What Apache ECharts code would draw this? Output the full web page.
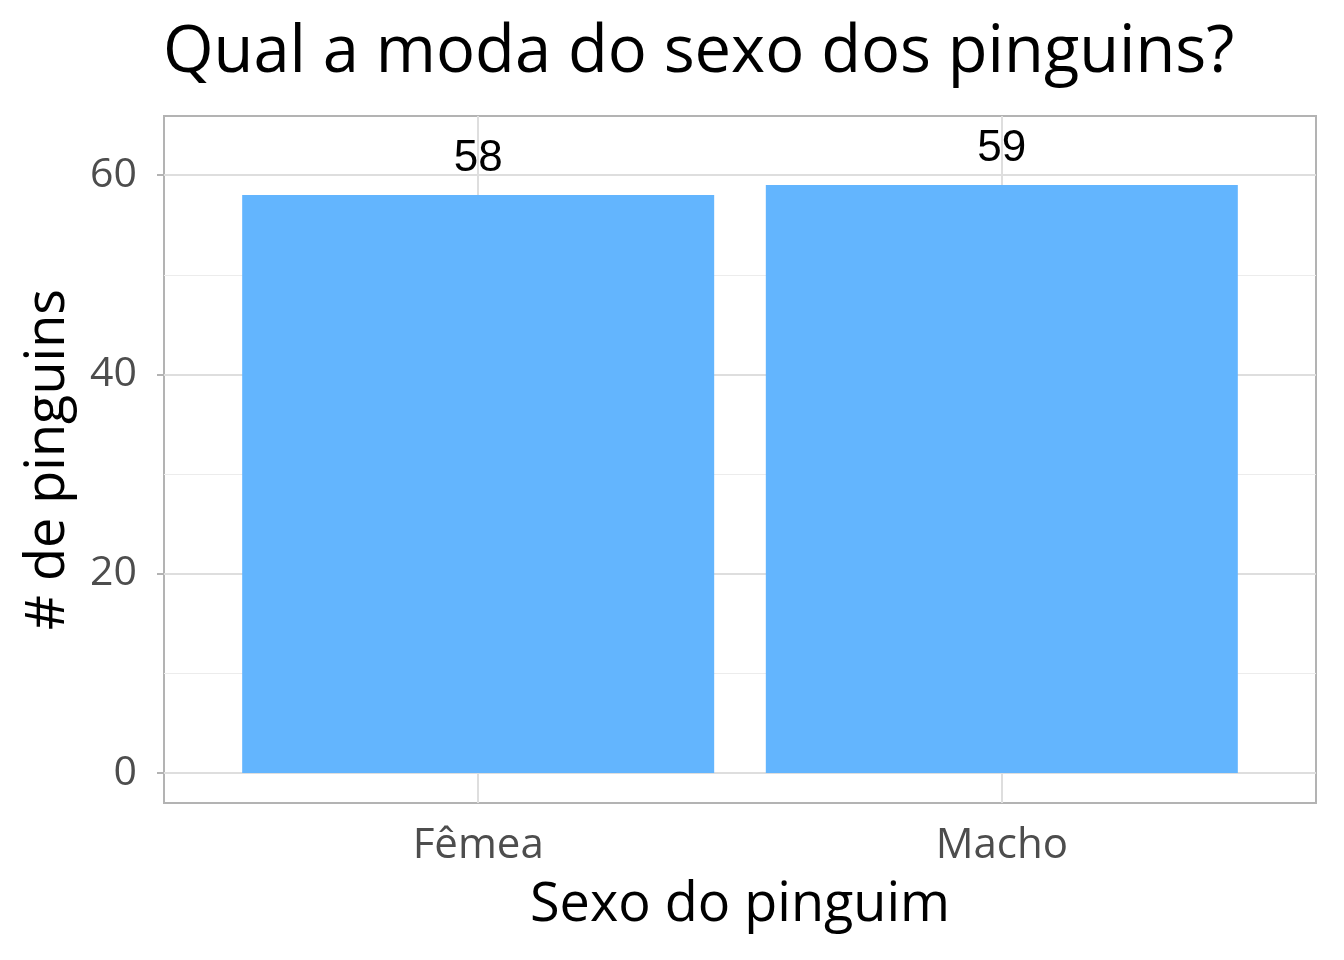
<!DOCTYPE html>
<html>
<head>
<meta charset="utf-8">
<script src="https://cdn.jsdelivr.net/npm/echarts@6/dist/echarts.min.js"></script>
<style>
  html, body { margin: 0; padding: 0; background: #fff; }
  #chart { width: 1344px; height: 960px; }
</style>
</head>
<body>
<div id="chart"></div>
<script>
// data
var categories = ['Fêmea', 'Macho']
var counts = [58, 59]
var yTicks = [0, 20, 40, 60]
var yMinor = [10, 30, 50]

var xPos = categories.map(function (c, i) { return i + 1 })
var barData = counts.map(function (v, i) { return [xPos[i], v] })

var gridMajor = { color: '#dedede', width: 2, type: 'solid' }
var gridMinor = { color: '#ececec', width: 1, type: 'solid' }

var gridLines = []
xPos.forEach(function (x) { gridLines.push({ xAxis: x, lineStyle: gridMajor }) })
yTicks.forEach(function (y) { gridLines.push({ yAxis: y, lineStyle: gridMajor }) })
yMinor.forEach(function (y) { gridLines.push({ yAxis: y, lineStyle: gridMinor }) })

var chart = echarts.init(document.getElementById('chart'))
chart.setOption({
  animation: false,
  textStyle: { fontFamily: 'Open Sans' },
  title: {
    text: 'Qual a moda do sexo dos pinguins?',
    left: 158,
    top: 16,
    textStyle: { fontFamily: 'Open Sans', fontSize: 65, fontWeight: 'normal', color: '#000' }
  },
  grid: {
    left: 164,
    right: 28,
    top: 116,
    bottom: 157,
    show: true,
    borderColor: '#b3b3b3',
    borderWidth: 2,
    backgroundColor: '#fff'
  },
  xAxis: {
    type: 'value',
    min: 0.4,
    max: 2.6,
    name: 'Sexo do pinguim',
    nameLocation: 'middle',
    nameGap: 76,
    nameTextStyle: { fontFamily: 'Open Sans', fontSize: 54, color: '#000' },
    axisLine: { show: false },
    splitLine: { show: false },
    axisTick: { show: true, customValues: xPos, length: 7, lineStyle: { color: '#b3b3b3', width: 2 } },
    axisLabel: {
      customValues: xPos,
      margin: 22,
      fontFamily: 'Open Sans',
      fontSize: 42,
      color: '#4d4d4d',
      formatter: function (v) { return categories[Math.round(v) - 1] || '' }
    }
  },
  yAxis: {
    type: 'value',
    min: -3.0,
    max: 65.93,
    name: '# de pinguins',
    nameLocation: 'middle',
    nameGap: 88,
    nameTextStyle: { fontFamily: 'Open Sans', fontSize: 54, color: '#000' },
    axisLine: { show: false },
    splitLine: { show: false },
    axisTick: { show: true, customValues: yTicks, length: 7, lineStyle: { color: '#b3b3b3', width: 2 } },
    axisLabel: {
      customValues: yTicks,
      margin: 27,
      fontFamily: 'Open Sans',
      fontSize: 41,
      color: '#4d4d4d'
    }
  },
  series: [
    {
      type: 'bar',
      data: barData,
      barWidth: 472,
      z: 3,
      itemStyle: { color: '#63b5fe' },
      label: {
        show: true,
        position: 'top',
        distance: 14,
        fontFamily: 'Liberation Sans',
        fontSize: 44,
        color: '#000',
        formatter: function (p) { return p.value[1] }
      },
      markLine: {
        silent: true,
        z: 1,
        symbol: ['none', 'none'],
        label: { show: false },
        emphasis: { disabled: true },
        data: gridLines
      }
    }
  ]
})
</script>
</body>
</html>
